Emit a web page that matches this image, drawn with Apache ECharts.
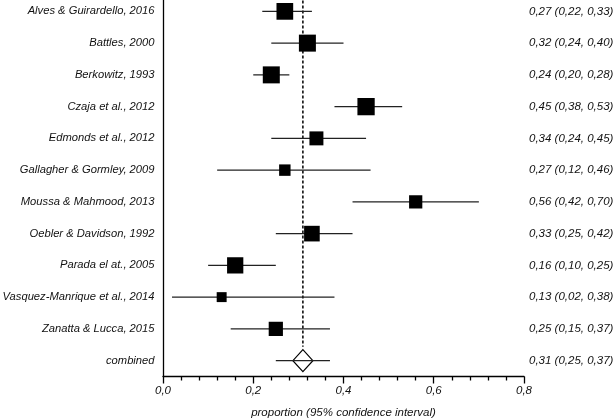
<!DOCTYPE html>
<html>
<head>
<meta charset="utf-8">
<script src="https://cdn.jsdelivr.net/npm/echarts@6/dist/echarts.min.js"></script>
<style>
html,body{margin:0;padding:0;background:#fff;}
#chart{width:615px;height:418px;}
</style>
</head>
<body>
<div id="chart"></div>
<script>
// ---- data ----
var studies = [
  'Alves & Guirardello, 2016',
  'Battles, 2000',
  'Berkowitz, 1993',
  'Czaja et al., 2012',
  'Edmonds et al., 2012',
  'Gallagher & Gormley, 2009',
  'Moussa & Mahmood, 2013',
  'Oebler & Davidson, 1992',
  'Parada el at., 2005',
  'Vasquez-Manrique et al., 2014',
  'Zanatta & Lucca, 2015',
  'combined'
];
var estimates = [0.27, 0.32, 0.24, 0.45, 0.34, 0.27, 0.56, 0.33, 0.16, 0.13, 0.25, 0.31];
var lower     = [0.22, 0.24, 0.20, 0.38, 0.24, 0.12, 0.42, 0.25, 0.10, 0.02, 0.15, 0.25];
var upper     = [0.33, 0.40, 0.28, 0.53, 0.45, 0.46, 0.70, 0.42, 0.25, 0.38, 0.37, 0.37];
// relative study weights (%), read from the square areas
var weights   = [11.3, 11.7, 11.7, 12.1, 7.9, 5.3, 7.1, 9.9, 10.7, 4.0, 8.2, null];
var xTicks = [0, 0.2, 0.4, 0.6, 0.8];

// ---- build ----
function fmt(v){ return v.toFixed(2).replace('.', ','); }
var rightLabels = estimates.map(function(e, i){
  return fmt(e) + ' (' + fmt(lower[i]) + ', ' + fmt(upper[i]) + ')';
});
var combinedIdx = studies.length - 1;
var pooled = estimates[combinedIdx];

var rows = studies.map(function(s, i){
  return [estimates[i], i, lower[i], upper[i], weights[i] == null ? 0 : weights[i]];
});

var FONT = "'Liberation Sans', Arial, sans-serif";
var txt = {fontFamily: FONT, fontStyle: 'italic', fontSize: 11.5, color: '#111'};
var txtLeft = Object.assign({}, txt, {fontSize: 11.2});
var SQ = 4.97;      // px per sqrt(weight)
var DIA_W = 10, DIA_H = 11;

var chart = echarts.init(document.getElementById('chart'), null, {renderer: 'canvas'});
chart.setOption({
  animation: false,
  backgroundColor: '#fff',
  grid: {left: 163, right: 91, top: -4.5, bottom: 41.5, containLabel: false, outerBoundsMode: 'none'},
  xAxis: {
    type: 'value', min: 0, max: 0.8, interval: 0.2,
    axisLine: {show: true, lineStyle: {color: '#000', width: 1.3}},
    axisTick: {show: true, length: 7, lineStyle: {color: '#000', width: 1.3}},
    minorTick: {show: true, splitNumber: 5, length: 4, lineStyle: {color: '#000', width: 1.3}},
    splitLine: {show: false},
    axisLabel: Object.assign({margin: 8, formatter: function(v){ return v.toFixed(1).replace('.', ','); }}, txt),
    name: 'proportion (95% confidence interval)',
    nameLocation: 'middle', nameGap: 30,
    nameTextStyle: txt
  },
  yAxis: [{
    type: 'category', data: studies, inverse: true,
    axisLine: {show: true, lineStyle: {color: '#000', width: 1.3}},
    axisTick: {show: false},
    splitLine: {show: false},
    axisLabel: Object.assign({margin: 8.5}, txtLeft)
  }, {
    type: 'category', data: rightLabels, inverse: true, position: 'right',
    axisLine: {show: false}, axisTick: {show: false}, splitLine: {show: false},
    axisLabel: Object.assign({margin: 5, align: 'left'}, txt)
  }],
  series: [{
    type: 'custom',
    data: [[pooled]],
    encode: {x: 0},
    z: 1,
    renderItem: function(params, api){
      var band = api.size([0, 1])[1];
      var top = api.coord([api.value(0), 0]);
      var bot = api.coord([api.value(0), combinedIdx]);
      return {
        type: 'line',
        shape: {x1: top[0], y1: top[1] - band / 2, x2: bot[0], y2: bot[1] - DIA_H - 3},
        style: {stroke: '#000', lineWidth: 1.5, lineDash: [3, 2]}
      };
    }
  }, {
    type: 'custom',
    data: rows,
    encode: {x: 0, y: 1},
    z: 2,
    renderItem: function(params, api){
      var idx = api.value(1);
      var c = api.coord([api.value(0), idx]);
      var l = api.coord([api.value(2), idx]);
      var r = api.coord([api.value(3), idx]);
      var children = [];
      if (idx === combinedIdx) {
        children.push({
          type: 'polygon',
          shape: {points: [[c[0], c[1] - DIA_H], [c[0] + DIA_W, c[1]], [c[0], c[1] + DIA_H], [c[0] - DIA_W, c[1]]]},
          style: {fill: '#fff', stroke: '#000', lineWidth: 1.2}
        });
      }
      children.push({
        type: 'line',
        shape: {x1: l[0], y1: c[1], x2: r[0], y2: c[1]},
        style: {stroke: '#222', lineWidth: 1.3}
      });
      if (idx !== combinedIdx) {
        var s = Math.sqrt(api.value(4)) * SQ;
        children.push({
          type: 'rect',
          shape: {x: c[0] - s / 2, y: c[1] - s / 2, width: s, height: s},
          style: {fill: '#000'}
        });
      }
      return {type: 'group', children: children};
    }
  }]
});
</script>
</body>
</html>
